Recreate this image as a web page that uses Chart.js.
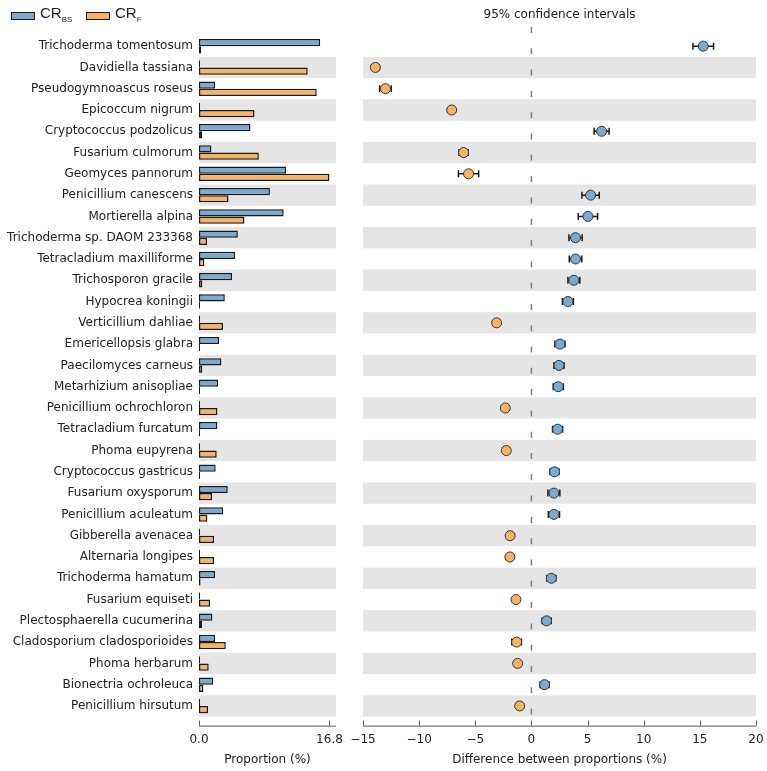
<!DOCTYPE html>
<html>
<head>
<meta charset="utf-8">
<script src="https://cdn.jsdelivr.net/npm/chart.js@4/dist/chart.umd.min.js"></script>
<style>
    body { margin: 0; background: #fff; }
    #wrap { position: relative; width: 767px; height: 771px; font-family: "DejaVu Sans", sans-serif; color: #222; }
    canvas { position: absolute; top: 0; }
    #leftChart { left: 0; }
    #rightChart { left: 345px; }
    .swatch { position: absolute; top: 12px; width: 24px; height: 8px; box-sizing: border-box; border: 1.5px solid #1a1a1a; }
    .leg { position: absolute; top: 4px; font-family: "Liberation Sans", Arial, sans-serif; font-size: 15px; line-height: 17px; }
    .leg sub { font-size: 8px; vertical-align: -4px; }
    #ciTitle { position: absolute; top: 7px; left: 363px; width: 393px; text-align: center; font-size: 12px; }
</style>
</head>
<body>
<div id="wrap">
    <canvas id="leftChart" width="345" height="771"></canvas>
    <canvas id="rightChart" width="422" height="771"></canvas>
    <div class="swatch" style="left:11px;background:#7aaad0"></div>
    <div class="leg" style="left:40px">CR<sub>BS</sub></div>
    <div class="swatch" style="left:86px;background:#f7b262"></div>
    <div class="leg" style="left:115px">CR<sub>F</sub></div>
    <div id="ciTitle">95% confidence intervals</div>
</div>
<script>
const species = [
    'Trichoderma tomentosum', 'Davidiella tassiana', 'Pseudogymnoascus roseus', 'Epicoccum nigrum',
    'Cryptococcus podzolicus', 'Fusarium culmorum', 'Geomyces pannorum', 'Penicillium canescens',
    'Mortierella alpina', 'Trichoderma sp. DAOM 233368', 'Tetracladium maxilliforme', 'Trichosporon gracile',
    'Hypocrea koningii', 'Verticillium dahliae', 'Emericellopsis glabra', 'Paecilomyces carneus',
    'Metarhizium anisopliae', 'Penicillium ochrochloron', 'Tetracladium furcatum', 'Phoma eupyrena',
    'Cryptococcus gastricus', 'Fusarium oxysporum', 'Penicillium aculeatum', 'Gibberella avenacea',
    'Alternaria longipes', 'Trichoderma hamatum', 'Fusarium equiseti', 'Plectosphaerella cucumerina',
    'Cladosporium cladosporioides', 'Phoma herbarum', 'Bionectria ochroleuca', 'Penicillium hirsutum'
];

// proportions (%) per group
const crBS = [15.6, 0, 2.07, 0, 6.63, 1.6, 11.2, 9.13, 10.9, 5.0, 4.65, 4.26, 3.32, 0, 2.58, 2.88,
              2.45, 0, 2.37, 0, 2.15, 3.7, 3.1, 0, 0, 2.07, 0, 1.72, 2.07, 0, 1.81, 0];
const crF = [0.26, 14.0, 15.16, 7.15, 0.39, 7.7, 16.8, 3.8, 5.86, 1.03, 0.69, 0.43, 0, 3.1, 0, 0.43,
             0, 2.37, 0, 2.28, 0, 1.68, 1.08, 1.94, 1.94, 0.2, 1.42, 0.39, 3.45, 1.25, 0.56, 1.16];

// difference between proportions and half width of the 95% CI
const diffs = [15.3, -13.9, -13.0, -7.1, 6.25, -6.04, -5.6, 5.27, 5.03, 3.93, 3.93, 3.78, 3.25, -3.1, 2.54, 2.45,
               2.39, -2.33, 2.33, -2.24, 2.06, 2.0, 2.0, -1.9, -1.92, 1.77, -1.38, 1.35, -1.32, -1.23, 1.17, -1.05];
const ciHalf = [0.92, 0.33, 0.52, 0.2, 0.67, 0.4, 0.9, 0.77, 0.86, 0.59, 0.56, 0.53, 0.49, 0.2, 0.45, 0.45,
                0.45, 0.2, 0.45, 0.2, 0.39, 0.53, 0.5, 0.2, 0.2, 0.4, 0.2, 0.4, 0.43, 0.2, 0.4, 0.2];

const propTicks = [0, 16.8];
const diffTicks = [-15, -10, -5, 0, 5, 10, 15, 20];

const BLUE = '#7aaad0';
const ORANGE = '#f7b262';
const EDGE = '#1a1a1a';
const font = { family: '"DejaVu Sans", sans-serif', size: 12 };

// grey band on every second row
const bands = {
    id: 'bands',
    beforeDatasetsDraw(chart) {
        const { ctx, chartArea: a, scales: { y } } = chart;
        const h = (a.bottom - a.top) / species.length;
        ctx.save();
        ctx.fillStyle = '#e5e5e5';
        species.forEach((s, i) => {
            if (i % 2 === 1) {
                const c = y.getPixelForValue(i);
                ctx.fillRect(a.left, c - h / 2, a.right - a.left, h);
            }
        });
        ctx.restore();
    }
};

// matplotlib-like offset spine with inward ticks
const spine = {
    id: 'spine',
    afterDraw(chart) {
        const { ctx, chartArea: a, scales: { x } } = chart;
        const yy = a.bottom + 9;
        ctx.save();
        ctx.strokeStyle = '#555';
        ctx.lineWidth = 1;
        ctx.beginPath();
        ctx.moveTo(a.left, yy + 0.5);
        ctx.lineTo(a.right, yy + 0.5);
        x.ticks.forEach(t => {
            const px = Math.round(x.getPixelForValue(t.value)) + 0.5;
            ctx.moveTo(px, yy);
            ctx.lineTo(px, yy - 5);
        });
        ctx.stroke();
        ctx.restore();
    }
};

// dashed zero line + error bars under the markers
const ciBars = {
    id: 'ciBars',
    beforeDatasetsDraw(chart) {
        const { ctx, chartArea: a, scales: { x, y } } = chart;
        ctx.save();
        const x0 = x.getPixelForValue(0);
        ctx.strokeStyle = '#7f7f7f';
        ctx.lineWidth = 1.5;
        ctx.setLineDash([6, 15.3]);
        ctx.beginPath();
        ctx.moveTo(x0, 27);
        ctx.lineTo(x0, a.bottom);
        ctx.stroke();
        ctx.setLineDash([]);
        ctx.strokeStyle = '#1a1a1a';
        ctx.lineWidth = 1.5;
        diffs.forEach((d, i) => {
            const cy = y.getPixelForValue(i);
            const lo = x.getPixelForValue(d - ciHalf[i]);
            const hi = x.getPixelForValue(d + ciHalf[i]);
            ctx.beginPath();
            ctx.moveTo(lo, cy);
            ctx.lineTo(hi, cy);
            ctx.moveTo(lo, cy - 3.5);
            ctx.lineTo(lo, cy + 3.5);
            ctx.moveTo(hi, cy - 3.5);
            ctx.lineTo(hi, cy + 3.5);
            ctx.stroke();
        });
        ctx.restore();
    }
};

const xCommon = {
    grid: { display: false, drawTicks: false },
    border: { display: false },
    afterFit: s => {
        s.height = 54.4;
        s.paddingLeft = 0;
        s.paddingRight = 0;
    }
};

new Chart(document.getElementById('leftChart'), {
    type: 'bar',
    data: {
        labels: species,
        datasets: [
            { label: 'CR_BS', data: crBS, backgroundColor: BLUE },
            { label: 'CR_F', data: crF, backgroundColor: ORANGE }
        ]
    },
    options: {
        indexAxis: 'y',
        responsive: false,
        animation: false,
        layout: { padding: { top: 35.5, right: 9, bottom: 0, left: 0 } },
        datasets: {
            bar: {
                borderColor: EDGE,
                borderWidth: 1.5,
                borderSkipped: false,
                categoryPercentage: 0.68,
                barPercentage: 1,
                minBarLength: 1
            }
        },
        scales: {
            x: {
                ...xCommon,
                type: 'linear',
                min: 0,
                max: 17.64,
                afterBuildTicks: s => { s.ticks = propTicks.map(v => ({ value: v })); },
                ticks: { font, color: '#222', padding: 16, maxRotation: 0, callback: v => Number(v).toFixed(1) },
                title: { display: true, text: 'Proportion (%)', font, color: '#222', padding: { top: 0, bottom: 4 } }
            },
            y: {
                type: 'category',
                offset: true,
                grid: { display: false, drawTicks: false },
                border: { display: false },
                ticks: { font, color: '#222', padding: 6, autoSkip: false },
                afterFit: s => { s.width = 199; }
            }
        },
        plugins: { legend: { display: false }, tooltip: { enabled: false } }
    },
    plugins: [bands, spine]
});

new Chart(document.getElementById('rightChart'), {
    type: 'scatter',
    data: {
        datasets: [{
            data: diffs.map((d, i) => ({ x: d, y: species[i] })),
            pointRadius: 5,
            pointBackgroundColor: diffs.map(d => d > 0 ? BLUE : ORANGE),
            pointBorderColor: '#333',
            pointBorderWidth: 1
        }]
    },
    options: {
        responsive: false,
        animation: false,
        layout: { padding: { top: 35.5, right: 11, bottom: 0, left: 18 } },
        scales: {
            x: {
                ...xCommon,
                type: 'linear',
                min: -15,
                max: 20,
                afterBuildTicks: s => { s.ticks = diffTicks.map(v => ({ value: v })); },
                ticks: { font, color: '#222', padding: 16, maxRotation: 0,
                         callback: v => v < 0 ? '\u2212' + Math.abs(v) : String(v) },
                title: { display: true, text: 'Difference between proportions (%)', font, color: '#222',
                         padding: { top: 0, bottom: 4 } }
            },
            y: {
                type: 'category',
                labels: species,
                offset: true,
                display: false
            }
        },
        plugins: { legend: { display: false }, tooltip: { enabled: false } }
    },
    plugins: [bands, ciBars, spine]
});
</script>
</body>
</html>
